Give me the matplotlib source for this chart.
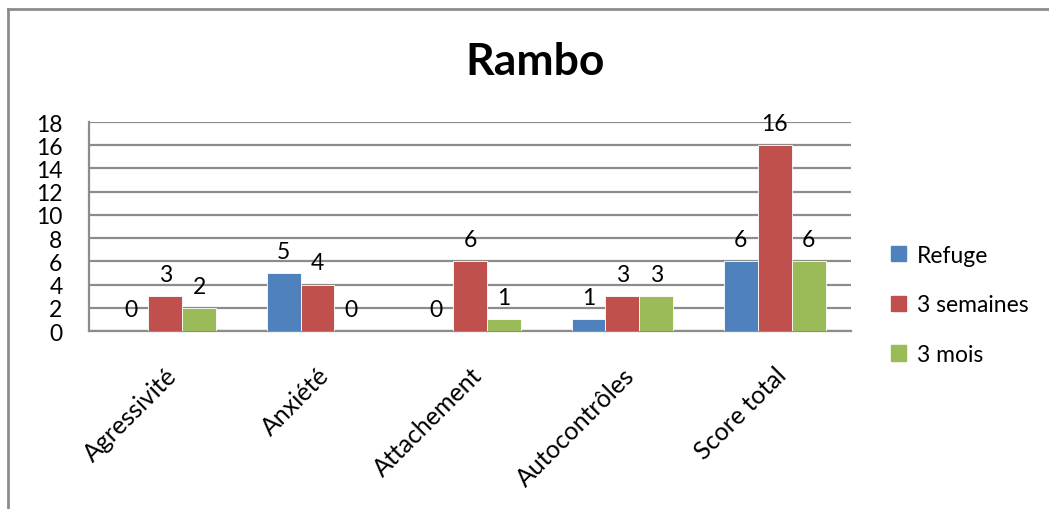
import numpy as np
import matplotlib
matplotlib.use("Agg")
import matplotlib.pyplot as plt
from matplotlib.lines import Line2D

plt.rcParams["font.family"] = ["Lato", "DejaVu Sans"]

categories = ["Agressivité", "Anxiété", "Attachement", "Autocontrôles", "Score total"]
series_names = ["Refuge", "3 semaines", "3 mois"]
refuge = [0, 5, 0, 1, 6]
semaines = [3, 4, 6, 3, 16]
mois = [2, 0, 1, 3, 6]
colors = ["#4F81BD", "#C0504D", "#9BBB59"]

fig = plt.figure(figsize=(10.49, 5.10), dpi=100)
ax = fig.add_axes([0.0848, 0.349, 0.7264, 0.4098])

x = np.arange(len(categories))
width = 1 / 4.5
for i, (vals, name) in enumerate(zip([refuge, semaines, mois], series_names)):
    pos = x + (i - 1) * width
    ax.bar(pos, vals, width, color=colors[i], label=name, edgecolor="white",
           linewidth=0.6, zorder=3)
    for p, v in zip(pos, vals):
        ax.annotate(str(v), (p, v), xytext=(0, 11), textcoords="offset points",
                    ha="center", va="baseline", fontsize=16.5, zorder=4)

ax.set_xlim(-0.5, len(categories) - 0.5)
ax.set_ylim(0, 18)
ax.set_yticks(np.arange(0, 19, 2))
ax.yaxis.grid(True, color="#8c8c8c", linewidth=1.6, zorder=0)
ax.tick_params(axis="y", length=0, pad=19, labelsize=16.5)
ax.tick_params(axis="x", length=0, pad=23, labelsize=18)
ax.set_xticks(x)
ax.set_xticklabels(categories, rotation=45, ha="right", rotation_mode="anchor")
for side in ["top", "right"]:
    ax.spines[side].set_visible(False)
for side in ["left", "bottom"]:
    ax.spines[side].set_color("#8c8c8c")
    ax.spines[side].set_linewidth(1.6)

fig.text(0.51, 0.878, "Rambo", ha="center", va="center", fontsize=32,
         fontweight="bold")

handles = [plt.Rectangle((0, 0), 1, 1, color=c) for c in colors]
fig.legend(handles, series_names, loc="center left", bbox_to_anchor=(0.83, 0.40),
           frameon=False, fontsize=16.5, handlelength=0.65, handleheight=0.65,
           handletextpad=0.45, labelspacing=1.25)

# outer chart frame
fig.add_artist(Line2D([7.5 / 1049, 7.5 / 1049], [0, 1 - 10 / 510],
                      color="#8c8c8c", linewidth=2, transform=fig.transFigure))
fig.add_artist(Line2D([7.5 / 1049, 1], [1 - 10 / 510, 1 - 10 / 510],
                      color="#8c8c8c", linewidth=2, transform=fig.transFigure))

fig.savefig("out.png", dpi=100)
